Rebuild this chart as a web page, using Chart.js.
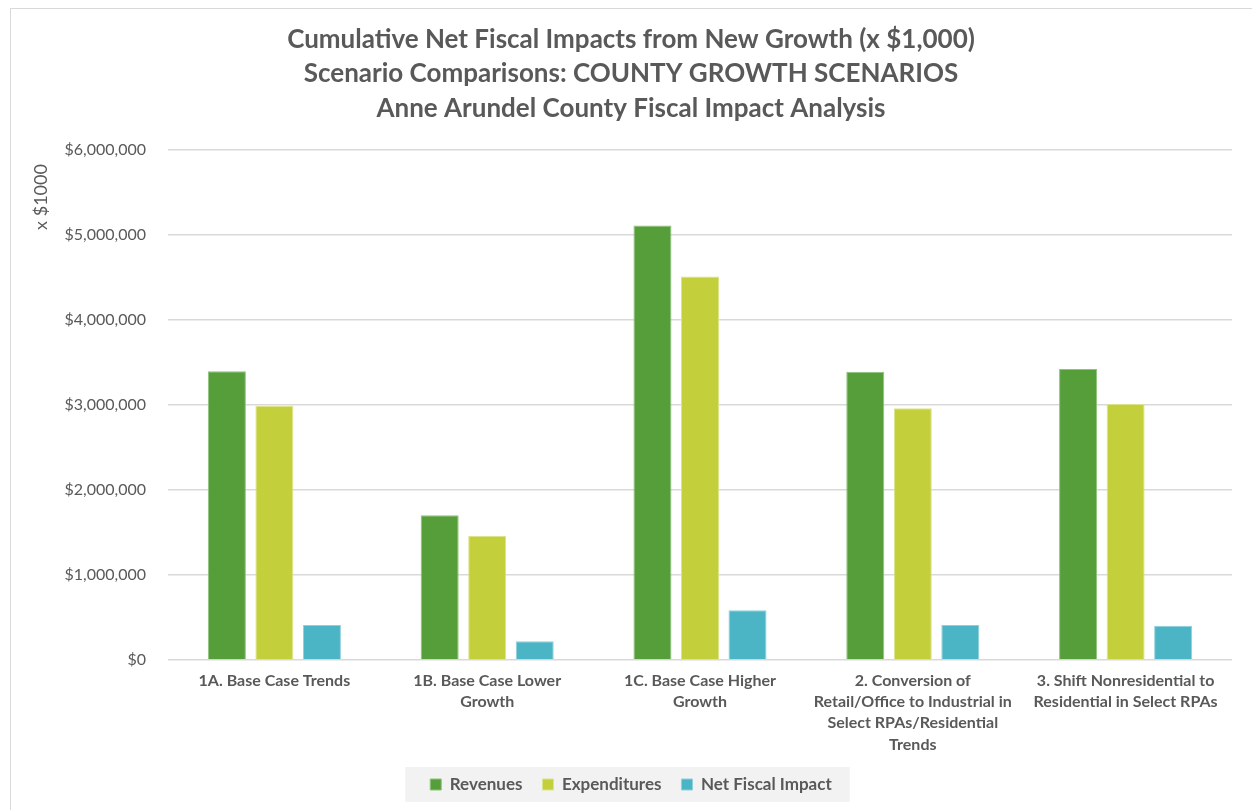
<!DOCTYPE html>
<html lang="en">
<head>
  <meta charset="UTF-8" />
  <title>Cumulative Net Fiscal Impacts from New Growth</title>
  <script src="https://cdn.jsdelivr.net/npm/chart.js"></script>
  <style>
    html, body { margin: 0; padding: 0; background: #fff; overflow: hidden; }
    #wrap { position: relative; width: 1252px; height: 810px; }
    #frame { position: absolute; left: 10px; top: 8px; width: 1300px; height: 900px;
             border-left: 1px solid #d9d9d9; border-top: 1px solid #d9d9d9; }
    canvas { position: absolute; left: 0; top: 0; }
  </style>
</head>
<body>
<div id="wrap">
  <div id="frame"></div>
  <canvas id="fiscalChart" width="1252" height="810"></canvas>
</div>
<script>
  const categories = [
    "1A. Base Case Trends",
    ["1B. Base Case Lower", "Growth"],
    ["1C. Base Case Higher", "Growth"],
    ["2. Conversion of", "Retail/Office to Industrial in", "Select RPAs/Residential", "Trends"],
    ["3. Shift Nonresidential to", "Residential in Select RPAs"]
  ];
  const revenues = [3395000, 1700000, 5110000, 3390000, 3420000];
  const expenditures = [2990000, 1460000, 4510000, 2960000, 3010000];
  const netImpact = [410000, 220000, 585000, 410000, 400000];

  const grey = "#595959";
  const fontFam = "Lato, 'Noto Sans', sans-serif";

  // grey box behind the legend
  const legendBg = {
    id: "legendBg",
    beforeDraw(chart) {
      const boxes = chart.legend && chart.legend.legendHitBoxes;
      if (!boxes || !boxes.length) return;
      const first = boxes[0], last = boxes[boxes.length - 1];
      const ctx = chart.ctx;
      const midY = first.top + first.height / 2;
      ctx.save();
      ctx.fillStyle = "#f2f2f2";
      ctx.fillRect(first.left - 25, midY - 17.5, last.left + last.width - first.left + 43, 35);
      ctx.restore();
    }
  };

  // y axis title sits near the top in the original
  const yTitle = {
    id: "yTitle",
    afterDraw(chart) {
      const ctx = chart.ctx;
      ctx.save();
      ctx.translate(41, 197);
      ctx.rotate(-Math.PI / 2);
      ctx.font = "18px " + fontFam;
      ctx.fillStyle = grey;
      ctx.textAlign = "center";
      ctx.textBaseline = "middle";
      ctx.fillText("x $1000", 0, 0);
      ctx.restore();
    }
  };

  const ctx = document.getElementById("fiscalChart").getContext("2d");
  new Chart(ctx, {
    type: "bar",
    data: {
      labels: categories,
      datasets: [
        { label: "Revenues", data: revenues, backgroundColor: "#559e3a", borderColor: "#8fc27a", borderWidth: 1 },
        { label: "Expenditures", data: expenditures, backgroundColor: "#c3d03b", borderColor: "#dbe48a", borderWidth: 1 },
        { label: "Net Fiscal Impact", data: netImpact, backgroundColor: "#4bb5c5", borderColor: "#8fd0da", borderWidth: 1 }
      ]
    },
    options: {
      responsive: false,
      animation: false,
      categoryPercentage: 0.67,
      barPercentage: 0.8,
      layout: { padding: { left: 30, right: 20, top: 0, bottom: 7 } },
      plugins: {
        title: {
          display: true,
          text: [
            "Cumulative Net Fiscal Impacts from New Growth (x $1,000)",
            "Scenario Comparisons: COUNTY GROWTH SCENARIOS",
            "Anne Arundel County Fiscal Impact Analysis"
          ],
          color: grey,
          font: { family: fontFam, size: 26, weight: "bold", lineHeight: 1.33 },
          padding: { top: 22, bottom: 24 }
        },
        legend: {
          position: "bottom",
          labels: {
            color: grey,
            font: { family: fontFam, size: 17, weight: "bold" },
            boxWidth: 11,
            boxHeight: 11,
            padding: 20
          }
        },
        tooltip: { enabled: false }
      },
      scales: {
        x: {
          afterFit(scale) { scale.height -= 9; },
          grid: { display: false, drawTicks: false },
          border: { display: false },
          ticks: {
            color: grey,
            font: { family: fontFam, size: 16, weight: "bold", lineHeight: 1.33 },
            maxRotation: 0,
            autoSkip: false,
            padding: 10
          }
        },
        y: {
          min: 0,
          max: 6000000,
          afterFit(scale) { scale.width = 138; },
          grid: { color: "#d9d9d9", lineWidth: 1.5, drawTicks: false },
          border: { display: false },
          ticks: {
            stepSize: 1000000,
            color: grey,
            padding: 22,
            font: { family: fontFam, size: 16 },
            callback: v => "$" + Number(v).toLocaleString("en-US")
          }
        }
      }
    },
    plugins: [legendBg, yTitle]
  });
</script>
</body>
</html>
